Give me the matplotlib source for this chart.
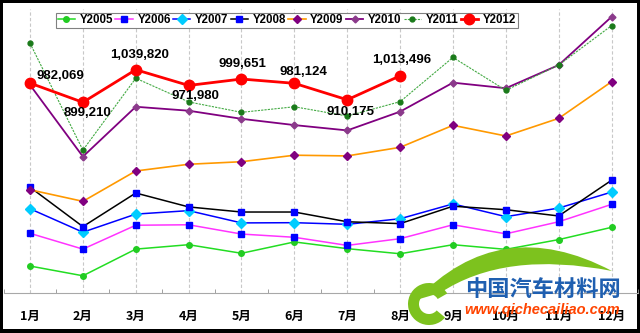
import numpy as np
import matplotlib
matplotlib.use("Agg")
import matplotlib.pyplot as plt
from matplotlib.patches import Rectangle, Wedge, PathPatch
from matplotlib.path import Path
from matplotlib.transforms import Affine2D

# monthly sales by year
months = ["1月", "2月", "3月", "4月", "5月", "6月", "7月", "8月", "9月", "10月", "11月", "12月"]
y2005 = [193000, 151000, 266000, 285000, 248000, 297000, 268000, 246000, 285000, 265000, 307000, 360000]
y2006 = [334000, 266000, 369000, 371000, 331000, 317000, 282000, 311000, 371000, 332000, 384000, 459000]
y2007 = [440000, 339000, 417000, 432000, 379000, 380000, 373000, 397000, 461000, 406000, 443000, 512000]
y2008 = [533000, 363000, 508000, 448000, 426000, 426000, 384000, 376000, 451000, 436000, 409000, 563000]
y2009 = [522000, 472000, 603000, 632000, 643000, 671000, 668000, 705000, 800000, 754000, 830000, 988000]
y2010 = [974000, 665000, 880000, 863000, 828000, 801000, 778000, 859000, 984000, 960000, 1060000, 1268000]
y2011 = [1154000, 693000, 1003000, 901000, 856000, 880000, 840000, 902000, 1093000, 951000, 1060000, 1230000]
y2012 = [982069, 899210, 1039820, 971980, 999651, 981124, 910175, 1013496]

W, H = 640, 333
fig = plt.figure(figsize=(W / 100, H / 100), dpi=100)
fig.patch.set_facecolor("black")
# white card inside the black frame
fig.add_artist(Rectangle((3 / W, 4 / H), 634 / W, 326 / H, transform=fig.transFigure,
                         facecolor="white", edgecolor="none", zorder=-1))

ax = fig.add_axes([3.6 / W, 40 / H, 634.4 / W, 283.6 / H])
ax.set_facecolor("none")

x = np.arange(len(months))
styles = [
    ("Y2005", y2005, dict(color="#22dd22", lw=1.1, marker="o", ms=4, mfc="#22cc22", mec="#22cc22")),
    ("Y2006", y2006, dict(color="#ff33ff", lw=1.1, marker="s", ms=3.8, mfc="#0000ff", mec="#0000ff")),
    ("Y2007", y2007, dict(color="#0000ff", lw=1.1, marker="D", ms=5, mfc="#00ccff", mec="#00ccff")),
    ("Y2008", y2008, dict(color="black", lw=1.1, marker="s", ms=4.5, mfc="#0000ff", mec="#0000ff")),
    ("Y2009", y2009, dict(color="#ff9900", lw=1.2, marker="D", ms=4, mfc="#800080", mec="#800080")),
    ("Y2010", y2010, dict(color="#800080", lw=1.3, marker="D", ms=3.5, mfc="#8b3a8b", mec="#8b3a8b")),
    ("Y2011", y2011, dict(color="#44aa44", lw=0.8, ls=(0, (2, 1)), marker="o", ms=3.5, mfc="#1a7a1a", mec="#1a7a1a")),
]
for name, vals, kw in styles:
    ax.plot(x[:len(vals)], vals, label=name, **kw)
ax.plot(x[:len(y2012)], y2012, label="Y2012", color="#ff0000", lw=2, marker="o", ms=7.5, zorder=5)

# value labels on 2012
offsets = [(30, 7), (5, -11), (4, 15), (7, -11), (1, 15), (9, 11), (3, -12), (2, 16)]
for i, (v, off) in enumerate(zip(y2012, offsets)):
    ax.annotate(f"{v:,}", (x[i], v), xytext=off, textcoords="offset pixels",
                ha="center", va="center", fontsize=9.5, fontweight="bold",
                family="Liberation Sans", zorder=6)

ax.set_xlim(-0.5, 11.5)
ax.set_ylim(76700, 1300000)
ax.set_xticks(x)
ax.set_xticklabels(months, family=["Noto Sans CJK SC", "DejaVu Sans"], fontweight="bold", fontsize=9)
ax.set_xticks(np.arange(-0.5, 12, 1), minor=True)
ax.tick_params(axis="x", which="major", length=0, pad=12)
ax.tick_params(axis="x", which="minor", direction="in", length=3, color="#909090")
ax.set_yticks([])
for s in ("left", "right", "top"):
    ax.spines[s].set_visible(False)
ax.spines["bottom"].set_color("#a8a8a8")
ax.grid(axis="x", which="major", color="#c8c8c8", ls=(0, (3, 2)), lw=0.8)
ax.set_axisbelow(True)

leg = ax.legend(ncol=8, loc="upper left", bbox_to_anchor=(56 / W, 1 - 12.7 / H),
                bbox_transform=fig.transFigure, borderaxespad=0, frameon=True,
                fancybox=False, edgecolor="#808080", framealpha=1,
                prop=dict(family="Liberation Sans", weight="bold", size=8.3),
                handlelength=1.5, handletextpad=0.4, columnspacing=0.2, borderpad=0.15)
leg.get_frame().set_linewidth(0.8)

# site logo, bottom right
px = Affine2D().scale(1 / W, -1 / H).translate(0, 1) + fig.transFigure
swoosh = Path([(416, 300), (500, 212), (612, 271), (505, 250), (440, 293), (416, 300)],
              [Path.MOVETO, Path.CURVE3, Path.CURVE3, Path.CURVE3, Path.CURVE3, Path.CLOSEPOLY])
fig.add_artist(PathPatch(swoosh, transform=px, facecolor="#7dc21e", edgecolor="none", zorder=5))
fig.add_artist(Wedge((429, 304), 21, 40, 330, width=11, transform=px,
                     facecolor="#7dc21e", edgecolor="none", zorder=5))
fig.text(543 / W, 1 - 289 / H, "中国汽车材料网", color="#1f5fb0", fontsize=16,
         fontweight="bold", family=["Noto Sans CJK SC", "DejaVu Sans"],
         ha="center", va="center", zorder=6)
fig.text(542 / W, 1 - 310 / H, "www.qichecailiao.com", color="#ff4400", fontsize=10.5,
         fontweight="bold", style="italic", family="Liberation Sans",
         ha="center", va="center", zorder=6)

fig.savefig("out.png", dpi=100, facecolor=fig.get_facecolor())
